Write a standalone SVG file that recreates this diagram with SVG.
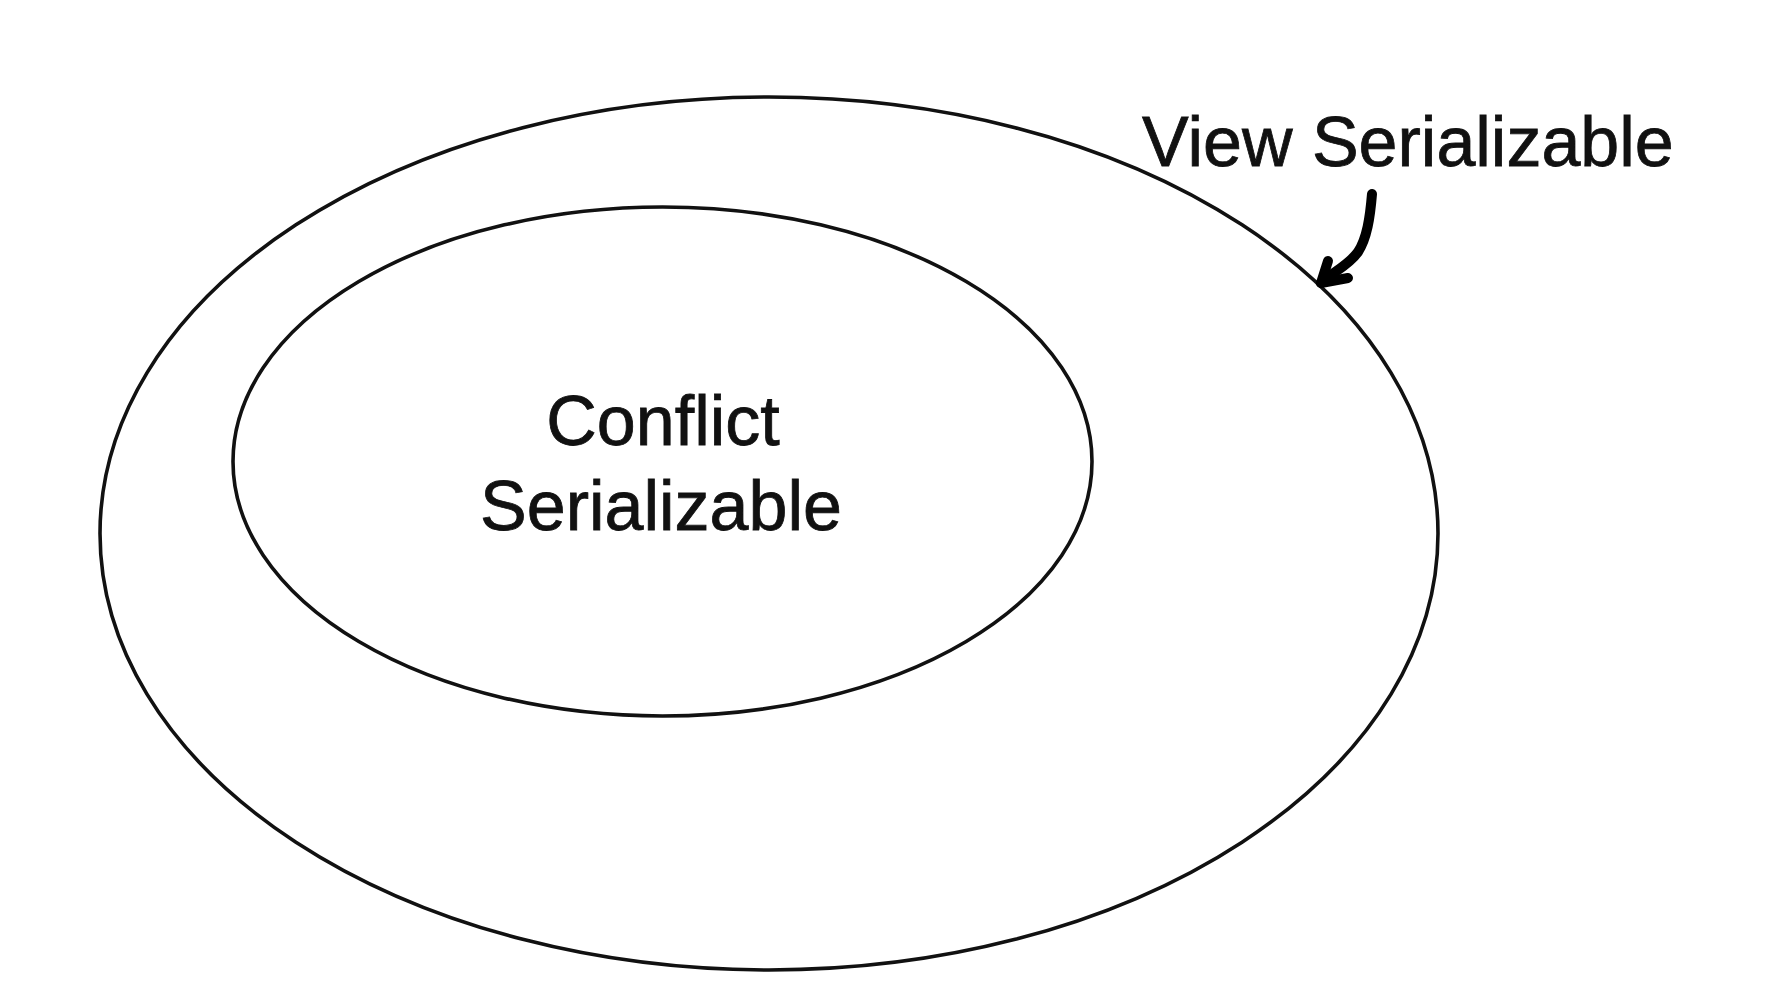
<svg xmlns="http://www.w3.org/2000/svg" width="1768" height="999" viewBox="0 0 1768 999">
<style>
.set{fill:none;stroke:#111;stroke-width:3.6}
.lbl{font-family:"Liberation Sans",Arial,sans-serif;font-size:70px;fill:#111;stroke:#111;stroke-width:0.8}
.arrow{fill:none;stroke:#000;stroke-width:10;stroke-linecap:round;stroke-linejoin:round}
</style>
<rect width="1768" height="999" fill="#fff"/>
<g id="view-serializable">
<ellipse class="set" cx="769" cy="533.5" rx="669" ry="436.5"/>
<text class="lbl" x="1142" y="166" font-size="72">View Serializable</text>
</g>
<g id="conflict-serializable">
<ellipse class="set" cx="662.5" cy="461.5" rx="429.5" ry="254.5"/>
<text class="lbl" x="663" y="445" text-anchor="middle">Conflict</text>
<text class="lbl" x="661" y="530" text-anchor="middle">Serializable</text>
</g>
<g id="connectors">
<path class="arrow" d="M1372,194 C1370,218 1367,238 1358,252 C1348,266 1331,273 1321,283"/>
<path class="arrow" d="M1328,261 L1321,283 L1348,278"/>
</g>
</svg>
